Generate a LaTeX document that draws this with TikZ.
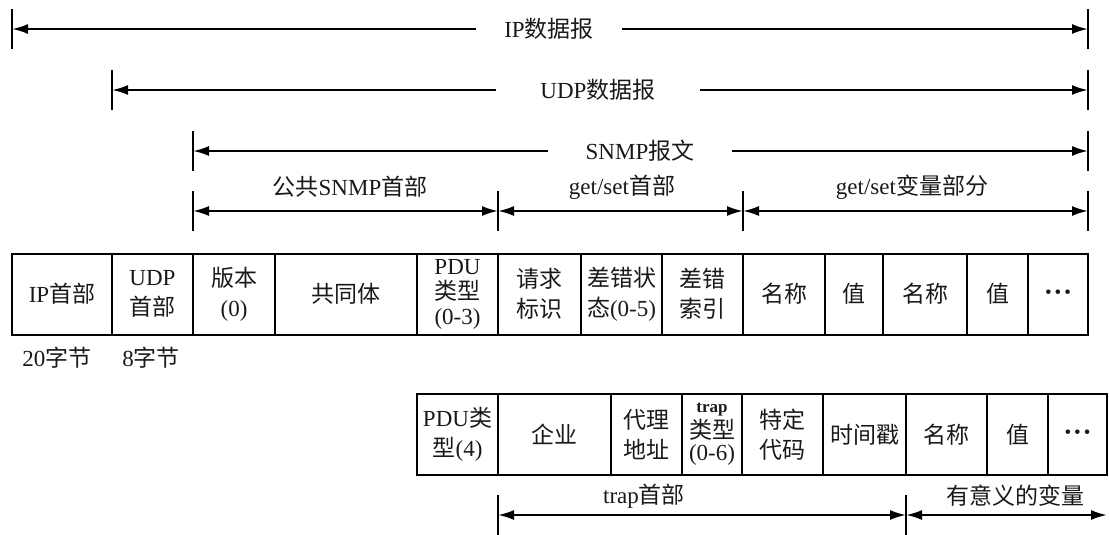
\documentclass[tikz,border=0pt]{standalone}
\usepackage{fontspec}
\setmainfont{Liberation Serif}
\newfontfamily\cjk{Noto Sans CJK SC}
\newcommand{\zh}[1]{{\cjk #1}}
\newcommand{\moredots}{{\fontsize{19}{19}\selectfont\textbullet\hspace{3pt}\textbullet\hspace{3pt}\textbullet}}
\usetikzlibrary{arrows.meta}

\begin{document}
\begin{tikzpicture}[x=1pt, y=-1pt, >={Latex[length=16pt,width=10pt]},
    every node/.style={font=\fontsize{23}{30}\selectfont, text=black!90},
    field/.style={draw, line width=2pt, minimum height=81pt, inner sep=0pt, align=center},
    dim/.style={line width=2pt},
    tick/.style={line width=1.8pt}]
\useasboundingbox (0,0) rectangle (1109,535);

\foreach \n/\a/\b/\t in {
    ip/12/112/{IP\zh{首部}},
    udp/112/193/{UDP\\\zh{首部}},
    ver/193/275/{\zh{版本}\\(0)},
    comm/275/417/{\zh{共同体}},
    pdu/417/498/{PDU\\[-5pt]\zh{类型}\\[-5pt](0-3)},
    reqid/498/581/{\zh{请求}\\\zh{标识}},
    errst/581/662/{\zh{差错状}\\\zh{态}(0-5)},
    errix/662/743/{\zh{差错}\\\zh{索引}},
    nameA/743/825/{\zh{名称}},
    valA/825/883/{\zh{值}},
    nameB/883/967/{\zh{名称}},
    valB/967/1028/{\zh{值}},
    moreA/1028/1088/{\moredots}%
} {
    \node[field, minimum width={(\b-\a)*1pt}] (\n) at ({(\a+\b)/2}, 294) {\t};
}

\foreach \n/\a/\b/\t in {
    pdutrap/417/498/{PDU\zh{类}\\\zh{型}(4)},
    ent/498/611/{\zh{企业}},
    agent/611/682/{\zh{代理}\\\zh{地址}},
    traptype/682/742/{{\fontsize{17}{17}\selectfont\bfseries trap}\\[-4pt]\zh{类型}\\[-8pt](0-6)},
    spec/742/823/{\zh{特定}\\\zh{代码}},
    stamp/823/906/{\zh{时间戳}},
    nameC/906/987/{\zh{名称}},
    valC/987/1048/{\zh{值}},
    moreB/1048/1107/{\moredots}%
} {
    \node[field, minimum width={(\b-\a)*1pt}] (\n) at ({(\a+\b)/2}, 434.5) {\t};
}

\node (ipsize) at (57,358) {20\zh{字节}};
\node (udpsize) at (151,358) {8\zh{字节}};

\coordinate (ipL) at (12,29);     \coordinate (ipR) at (1088,29);
\coordinate (udpL) at (112,90);   \coordinate (udpR) at (1088,90);
\coordinate (snmpL) at (193,151); \coordinate (snmpR) at (1088,151);
\coordinate (hdA) at (193,211);   \coordinate (hdB) at (498,211);
\coordinate (hdC) at (743,211);   \coordinate (hdD) at (1088,211);
\coordinate (trA) at (498,515);   \coordinate (trB) at (906,515);
\coordinate (trC) at (1107,515);

\node[inner xsep=28pt] (ipdg) at (549,29) {IP\zh{数据报}};
\node[inner xsep=44pt] (udpdg) at (598,90) {UDP\zh{数据报}};
\node[inner xsep=37pt] (snmpmsg) at (640,151) {SNMP\zh{报文}};

\draw[dim, ->] (ipdg) -- (ipL);
\draw[dim, ->] (ipdg) -- (ipR);
\draw[dim, ->] (udpdg) -- (udpL);
\draw[dim, ->] (udpdg) -- (udpR);
\draw[dim, ->] (snmpmsg) -- (snmpL);
\draw[dim, ->] (snmpmsg) -- (snmpR);

\node (comhd) at (350,187) {\zh{公共}SNMP\zh{首部}};
\node (gshd) at (622,187) {get/set\zh{首部}};
\node (gsvar) at (912,187) {get/set\zh{变量部分}};
\draw[dim, <->] (hdA) -- (hdB);
\draw[dim, <->] (hdB) -- (hdC);
\draw[dim, <->] (hdC) -- (hdD);

\node (traphd) at (644,496) {trap\zh{首部}};
\node (trapvar) at (1015,496) {\zh{有意义的变量}};
\draw[dim, <->] (trA) -- (trB);
\draw[dim, <->] (trB) -- (trC);

\foreach \c in {ipL, ipR, udpL, udpR, snmpL, snmpR, hdA, hdB, hdC, hdD, trA, trB}
    \draw[tick] (\c) ++(0,-20) -- ++(0,40);
\end{tikzpicture}
\end{document}
